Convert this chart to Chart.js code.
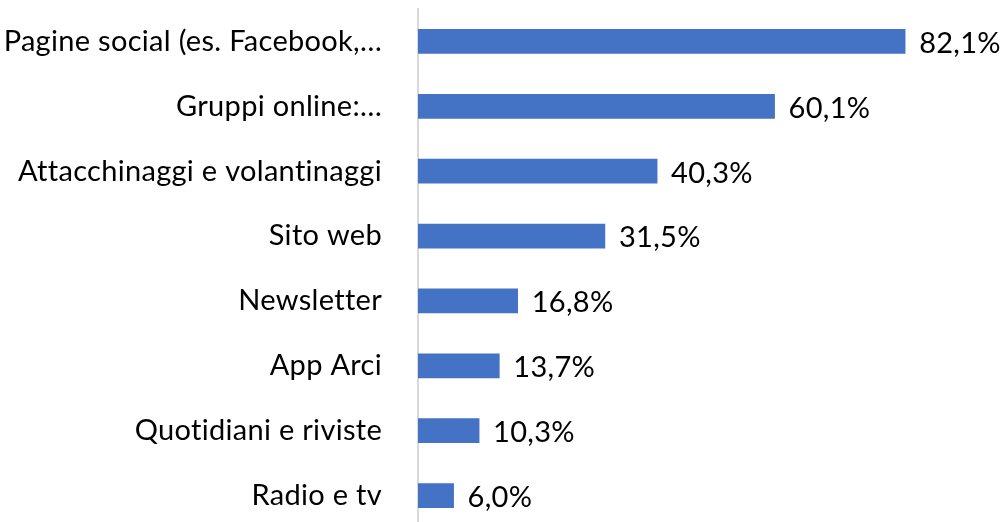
<!DOCTYPE html>
<html>
<head>
<meta charset="utf-8">
<script src="https://cdn.jsdelivr.net/npm/chart.js@4"></script>
<style>
  html, body { margin: 0; padding: 0; background: #fff; overflow: hidden; }
  #wrap { position: relative; width: 1007px; height: 528px; }
</style>
</head>
<body>
<div id="wrap"><canvas id="chart"></canvas></div>
<script>
// categories, top to bottom
const categories = [
  "Pagine social (es. Facebook,\u2026",
  "Gruppi online:\u2026",
  "Attacchinaggi e volantinaggi",
  "Sito web",
  "Newsletter",
  "App Arci",
  "Quotidiani e riviste",
  "Radio e tv"
];
const values = [82.1, 60.1, 40.3, 31.5, 16.8, 13.7, 10.3, 6.0];

const FONT = "Lato";
const FONT_SIZE = 29;
const barColor = "#4472c4";

// no "ti" ligatures (Lato has them, the original font does not)
const noLigatures = {
  id: "noLigatures",
  beforeDraw(chart) {
    chart.ctx.textRendering = "optimizeSpeed";
    chart.ctx.letterSpacing = "0.3px";
  }
};

// value labels to the right of each bar
const valueLabels = {
  id: "valueLabels",
  afterDatasetsDraw(chart) {
    const { ctx } = chart;
    const meta = chart.getDatasetMeta(0);
    ctx.save();
    ctx.font = `${FONT_SIZE}px ${FONT}`;
    ctx.fillStyle = "#000";
    ctx.textBaseline = "middle";
    ctx.textAlign = "left";
    meta.data.forEach((bar, i) => {
      const txt = values[i].toFixed(1).replace(".", ",") + "%";
      ctx.fillText(txt, bar.x + 14, bar.y + 2);
    });
    ctx.restore();
  }
};

new Chart(document.getElementById("chart"), {
  type: "bar",
  data: {
    labels: categories,
    datasets: [{
      data: values,
      backgroundColor: barColor,
      barThickness: 24
    }]
  },
  options: {
    indexAxis: "y",
    responsive: true,
    maintainAspectRatio: false,
    animation: false,
    layout: { padding: { top: 9, right: 55, bottom: 0, left: 0 } },
    plugins: {
      legend: { display: false },
      tooltip: { enabled: false }
    },
    scales: {
      x: {
        display: false,
        min: 0,
        max: 90
      },
      y: {
        // fixed axis position, no extra top/bottom padding from tick padding
        afterFit(scale) {
          scale.width = 418;
          scale.paddingTop = 0;
          scale.paddingBottom = 0;
        },
        grid: { display: false, drawTicks: false },
        border: { display: true, color: "#d9d9d9", width: 2 },
        ticks: {
          padding: 36,
          color: "#000",
          font: { family: FONT, size: FONT_SIZE }
        }
      }
    }
  },
  plugins: [noLigatures, valueLabels]
});
</script>
</body>
</html>
